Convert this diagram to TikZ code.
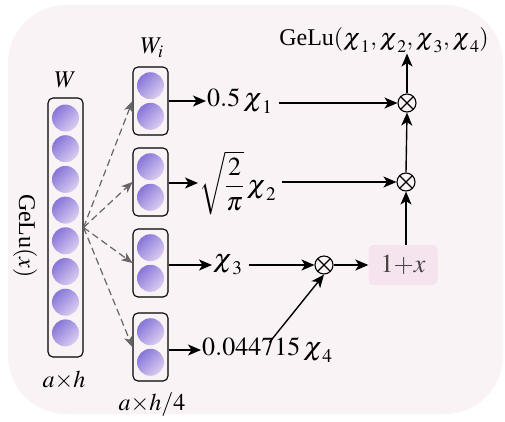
\documentclass[tikz,border=0pt]{standalone}
\usepackage{mathptmx}
\usepackage{fontspec}
\setmainfont{Liberation Serif}
\usetikzlibrary{arrows.meta}
\definecolor{bgpink}{HTML}{FAF3F6}
\definecolor{boxpink}{HTML}{F5E3EE}
\definecolor{ndark}{HTML}{8676D8}
\definecolor{nlight}{HTML}{DCCDF1}
\definecolor{dashgray}{HTML}{666666}
\definecolor{txtgray}{HTML}{444444}
\newcommand{\chii}{\mbox{\scalebox{1.12}[1.0]{$\chi$}}}
\begin{document}
\begin{tikzpicture}[x=1pt,y=-1pt,
  neuron/.style={circle, minimum size=27pt, inner sep=0pt, top color=ndark, bottom color=nlight, shading angle=45},
  colbox/.style={draw, rounded corners=5pt, line width=1.1pt, minimum width=35pt, inner sep=0pt},
  arr/.style={line width=1.4pt, -{Stealth[length=13pt,width=11pt,inset=3.5pt]}},
  darr/.style={dashgray, line width=1.2pt, dash pattern=on 7pt off 4pt, -{Stealth[length=11pt,width=9pt,inset=3pt]}},
  mult/.style={circle, draw, line width=1.1pt, minimum size=18pt, inner sep=0pt,
    path picture={\draw[line width=1.1pt] (path picture bounding box.north west) -- (path picture bounding box.south east)
      (path picture bounding box.north east) -- (path picture bounding box.south west);}},
  lbl/.style={font=\fontsize{24}{28}\selectfont, inner sep=1pt},
  term/.style={font=\fontsize{26}{30}\selectfont, inner sep=1pt, anchor=west}
]
\useasboundingbox (0,0) rectangle (505,421);
\fill[bgpink, rounded corners=58pt] (8,5) rectangle (503,414);

% big column
\node[colbox, minimum height=259pt] (Wb) at (65.5,227.5) {};
\foreach \k in {0,...,7} {
  \node[neuron] (w\k) at (65.5,{118+30.7*\k}) {};
}
\node[lbl] (Wl) at (65.5,80) {$W$};
\node[lbl] (ah) at (64,380) {$a{\times}h$};
\node[lbl, rotate=-90] (gx) at (25,236) {GeLu$(x)$};

% small columns
\foreach \i/\y in {1/101,2/182,3/263,4/347} {
  \node[colbox, minimum height=68pt] (b\i) at (150.5,\y) {};
  \node[neuron] (n\i a) at (150.5,\y-15.3) {};
  \node[neuron] (n\i b) at (150.5,\y+15.3) {};
  \draw[darr] (Wb.east) -- (b\i.west);
}
\node[lbl] (Wil) at (152,48) {$W_i$};
\node[lbl] (ah4) at (152,405) {$a{\times}h/4$};

% terms
\node[term] (t1) at (206,101) {$0.5\,\chii_1$};
\node[term] (t2) at (198,183) {$\sqrt{\displaystyle\frac{2}{\pi}}\,\chii_2$};
\node[term] (t3) at (212,265) {$\chii_3$};
\node[term] (t4) at (201,350) {$0.044715\,\chii_4$};
\foreach \i in {1,...,4} {
  \draw[arr] (b\i.east |- t\i) -- (t\i.west);
}

% multipliers
\node[mult] (m1) at (407,103) {};
\node[mult] (m2) at (406,182) {};
\node[mult] (m3) at (324,265) {};
\node[fill=boxpink, rounded corners=5pt, minimum width=69pt, minimum height=40pt, text=txtgray,
  font=\fontsize{26}{30}\selectfont] (p) at (403,265) {$1{+}x$};
\node[font=\fontsize{24}{28}\selectfont, inner sep=1pt] (g) at (384,40) {GeLu$\left(\chii_1,\chii_2,\chii_3,\chii_4\right)$};

\draw[arr, shorten <=5pt] (t1.east |- m1) -- (m1.west);
\draw[arr, shorten <=5pt] (t2.east |- m2) -- (m2.west);
\draw[arr, shorten <=5pt] (t3.east |- m3) -- (m3.west);
\draw[arr] ([xshift=2pt,yshift=-6pt]t4.north) -- (m3.south);
\draw[arr] (m3.east) -- (p.west);
\draw[arr] (p.north -| m2) -- (m2.south);
\draw[arr] (m2.north) -- (m1.south);
\draw[arr] (m1.north) -- (g.south -| m1);
\end{tikzpicture}
\end{document}
